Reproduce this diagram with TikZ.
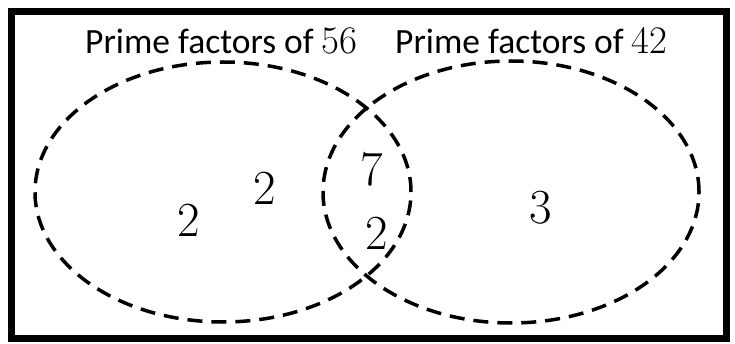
\documentclass[tikz,border=0pt]{standalone}
\usepackage{fontspec}
\setmainfont{Carlito}
\newfontfamily\numfont{Latin Modern Roman}
\newcommand\titlenum[1]{{\fontsize{39}{42}\selectfont\numfont #1}}
\tikzset{
  venn/.style={dashed,line width=3.5pt,dash pattern=on 15pt off 9pt},
  title/.style={anchor=base west,inner sep=0pt,font=\fontsize{35.5}{40}\selectfont},
  elem/.style={anchor=base,inner sep=0pt,font=\fontsize{49}{52}\selectfont\numfont}
}
\begin{document}
\begin{tikzpicture}[x=1pt,y=-1pt]
  \useasboundingbox (0,0) rectangle (735,344);
  \draw[line width=7pt] (11,12) rectangle (726,338); %frame
  \coordinate (L) at (223,192);
  \coordinate (R) at (511,192);
  \draw[venn] (L) ellipse [x radius=188pt, y radius=130pt];
  \draw[venn] (R) ellipse [x radius=188pt, y radius=131pt];
  \node[title] (t56) at (85,54) {Prime factors of \titlenum{56}};
  \node[title] (t42) at (395,54) {Prime factors of \titlenum{42}};
  % 56 only
  \node[elem] (a1) at (189,237) {2};
  \node[elem] (a2) at (265,205) {2};
  % both
  \node[elem] (b1) at (372,186) {7};
  \node[elem] (b2) at (377,250) {2};
  % 42 only
  \node[elem] (c1) at (541,224) {3};
\end{tikzpicture}
\end{document}
